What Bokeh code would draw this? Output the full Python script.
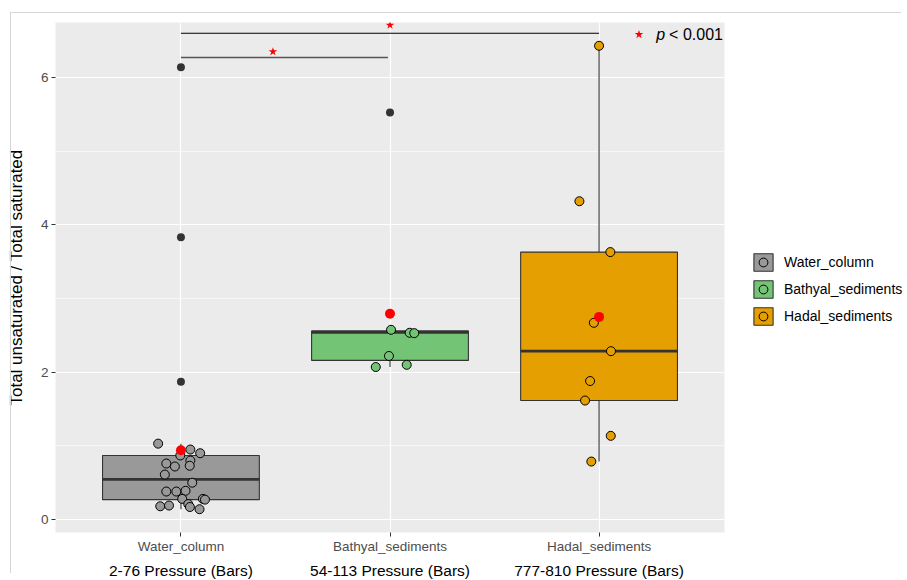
import numpy as np
from bokeh.plotting import figure
from bokeh.models import (ColumnDataSource, FixedTicker, LinearAxis, Range1d,
                          Legend, LegendItem, InlineStyleSheet)
from bokeh.core.properties import value
from bokeh.embed import file_html
from bokeh.resources import INLINE

# ---------------- data ----------------
groups = ["Water_column", "Bathyal_sediments", "Hadal_sediments"]
pressure_labels = ["2-76 Pressure (Bars)", "54-113 Pressure (Bars)", "777-810 Pressure (Bars)"]
group_pos = [1, 2, 3]
fills = ["#999999", "#74C476", "#E69F00"]

water_values = [1.03, 0.95, 0.90, 0.87, 0.80, 0.76, 0.72, 0.73, 0.61, 0.50, 0.38,
                0.38, 0.39, 0.28, 0.28, 0.27, 0.21, 0.18, 0.19, 0.17, 0.14]
water_jitter = [-0.109, 0.045, 0.092, -0.003, 0.045, -0.070, -0.029, 0.042, -0.077, 0.054, -0.070,
                -0.022, 0.022, 0.006, 0.105, 0.115, 0.035, -0.099, -0.057, 0.043, 0.089]
water_outliers = [1.87, 3.83, 6.14]

bathyal_values = [2.575, 2.535, 2.53, 2.22, 2.07, 2.10]
bathyal_jitter = [0.005, 0.094, 0.116, -0.005, -0.068, 0.080]
bathyal_outliers = [5.525]

hadal_values = [6.43, 4.32, 3.63, 2.67, 2.285, 1.88, 1.615, 1.136, 0.787]
hadal_jitter = [0.0, -0.094, 0.054, -0.025, 0.057, -0.043, -0.067, 0.056, -0.037]
hadal_outliers = []

box_q1 = [0.27, 2.16, 1.615]
box_median = [0.545, 2.54, 2.285]
box_q3 = [0.87, 2.56, 3.63]
box_lo = [0.14, 2.07, 0.787]
box_hi = [1.03, 2.575, 6.43]

all_values = [water_values + water_outliers,
              bathyal_values + bathyal_outliers,
              hadal_values + hadal_outliers]
group_means = [float(np.mean(v)) for v in all_values]

# significance brackets
sig_x0 = [1, 1]
sig_x1 = [3, 1.99]
sig_y = [6.60, 6.27]
sig_star_x = [2.0, 1.44]
sig_star_y = [6.71, 6.35]
pval_label = "< 0.001"

# ---------------- figure ----------------
FONT = "Liberation Sans"
BOX_W = 0.75

p = figure(frame_width=669, frame_height=510, output_backend="svg", toolbar_location=None,
           x_range=Range1d(0.4, 3.6), y_range=Range1d(-0.176, 6.746),
           min_border_left=55, min_border_right=183, min_border_top=22,
           min_border_bottom=0)
p.background_fill_color = "#ebebeb"
p.border_fill_color = "white"
p.outline_line_color = None
# thin light-gray frame line along the top/left of the picture
p.stylesheets = [InlineStyleSheet(css=(
    ":host::after { content: ''; position: absolute; left: 10px; top: 12px; "
    "width: 890px; height: 560px; border-left: 1px solid #d6d6d6; "
    "border-top: 1px solid #d6d6d6; pointer-events: none; }"))]

# axes
p.xaxis.ticker = FixedTicker(ticks=group_pos)
p.xaxis.major_label_overrides = {g: lab for g, lab in zip(group_pos, groups)}
p.yaxis.ticker = FixedTicker(ticks=[0, 2, 4, 6], minor_ticks=[1, 3, 5])
for ax in (p.xaxis[0], p.yaxis[0]):
    ax.axis_line_color = None
    ax.major_tick_line_color = "#333333"
    ax.major_tick_line_width = 1
    ax.major_tick_out = 4
    ax.major_tick_in = 0
    ax.minor_tick_line_color = None
    ax.major_label_text_color = "#4d4d4d"
    ax.major_label_text_font = FONT
    ax.major_label_text_font_size = "13.5px"
p.xaxis.major_label_standoff = 2
p.yaxis.major_label_standoff = 3
p.yaxis.axis_label = "Total unsaturated / Total saturated"
p.yaxis.axis_label_text_font = FONT
p.yaxis.axis_label_text_font_size = "17px"
p.yaxis.axis_label_text_font_style = "normal"
p.yaxis.axis_label_text_color = "black"
p.yaxis.axis_label_standoff = 12

ax2 = LinearAxis(ticker=FixedTicker(ticks=group_pos),
                 major_label_overrides={g: lab for g, lab in zip(group_pos, pressure_labels)})
ax2.axis_line_color = None
ax2.major_tick_line_color = None
ax2.minor_tick_line_color = None
ax2.major_tick_out = 0
ax2.major_tick_in = 0
ax2.major_label_standoff = 5
ax2.major_label_text_font = FONT
ax2.major_label_text_font_size = "15.5px"
ax2.major_label_text_color = "black"
p.add_layout(ax2, "below")

# grid
p.xgrid.grid_line_color = "white"
p.xgrid.grid_line_width = 1.2
p.ygrid.grid_line_color = "white"
p.ygrid.grid_line_width = 1.2
p.ygrid.minor_grid_line_color = "white"
p.ygrid.minor_grid_line_width = 0.6

# whiskers
p.segment(x0=group_pos, y0=box_q3, x1=group_pos, y1=box_hi, line_color="#333333", line_width=1.1)
p.segment(x0=group_pos, y0=box_lo, x1=group_pos, y1=box_q1, line_color="#333333", line_width=1.1)

# boxes
box_src = ColumnDataSource(dict(x=group_pos, q1=box_q1, q3=box_q3, fill=fills))
box_r = p.vbar(x="x", width=BOX_W, bottom="q1", top="q3", source=box_src,
               fill_color="fill", line_color="#333333", line_width=1.1)
p.segment(x0=[g - BOX_W / 2 for g in group_pos], y0=box_median,
          x1=[g + BOX_W / 2 for g in group_pos], y1=box_median,
          line_color="#333333", line_width=2.8)

# outliers
out_x = [1] * len(water_outliers) + [2] * len(bathyal_outliers) + [3] * len(hadal_outliers)
out_y = water_outliers + bathyal_outliers + hadal_outliers
p.scatter(out_x, out_y, size=8, fill_color="#333333", line_color=None)

# jittered points
jit_rs = []
for g, vals, jit, col in zip(group_pos,
                             [water_values, bathyal_values, hadal_values],
                             [water_jitter, bathyal_jitter, hadal_jitter], fills):
    r = p.scatter([g + j for j in jit], vals, size=9, fill_color=col,
                  line_color="black", line_width=1)
    jit_rs.append(r)

# means
p.scatter(group_pos, group_means, size=10, fill_color="red", line_color=None)

# significance
p.segment(x0=sig_x0[:1], y0=sig_y[:1], x1=sig_x1[:1], y1=sig_y[:1], line_color="black", line_width=1.2)
p.segment(x0=sig_x0[1:], y0=sig_y[1:], x1=sig_x1[1:], y1=sig_y[1:], line_color="#555555", line_width=1.4)
p.scatter(sig_star_x, sig_star_y, marker="star", size=9, fill_color="red", line_color=None)

# p-value annotation
p.scatter([3.191], [6.583], marker="star", size=9, fill_color="red", line_color=None)
p.text([3.273], [6.583], text=["p"], text_font=value(FONT), text_font_style="italic",
       text_font_size="16px", text_baseline="middle", text_color="black")
p.text([3.335], [6.583], text=[pval_label], text_font=value(FONT),
       text_font_size="16px", text_baseline="middle", text_color="black")

# legend (right of the panel)
items = [LegendItem(label=groups[i], renderers=[box_r, jit_rs[i]], index=i) for i in range(3)]
legend = Legend(items=items, location=(27, 205))
legend.background_fill_color = "white"
legend.border_line_color = None
legend.glyph_width = 24
legend.glyph_height = 22
legend.spacing = 5
legend.padding = 0
legend.margin = 0
legend.label_standoff = 9
legend.label_text_font = FONT
legend.label_text_font_size = "14px"
legend.label_text_color = "black"
p.add_layout(legend, "right")

open("out.html", "w").write(file_html(p, INLINE))
